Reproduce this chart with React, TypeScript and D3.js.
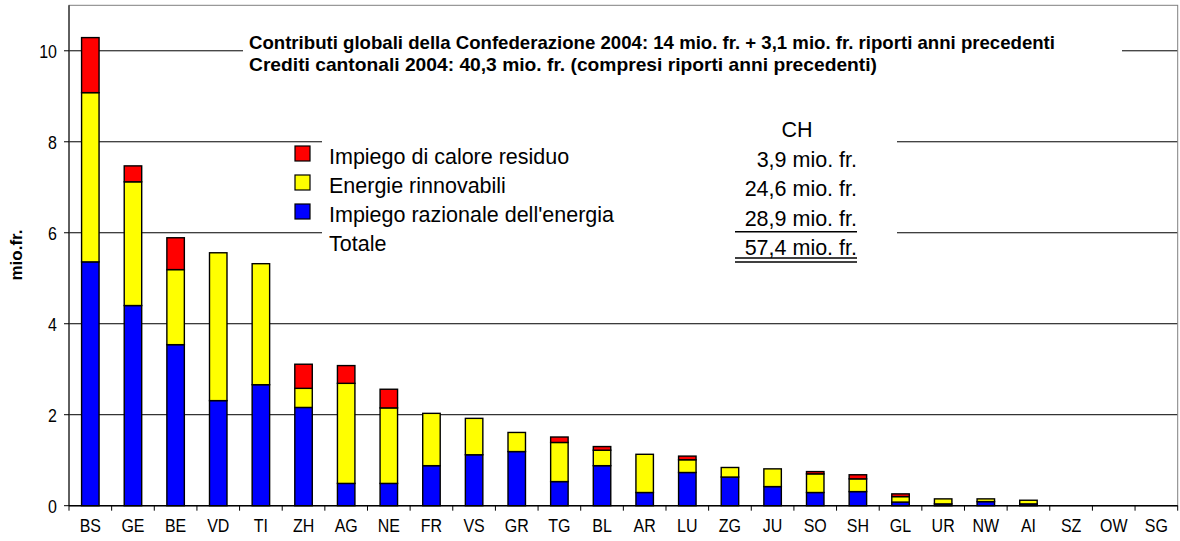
import { stack } from "d3";
import { scaleBand, scaleLinear } from "d3";

const cantons = ["BS", "GE", "BE", "VD", "TI", "ZH", "AG", "NE", "FR", "VS", "GR", "TG", "BL", "AR", "LU", "ZG", "JU", "SO", "SH", "GL", "UR", "NW", "AI", "SZ", "OW", "SG"];
// mio. fr. per canton
const rationalUse = [5.36, 4.4, 3.54, 2.31, 2.66, 2.16, 0.49, 0.49, 0.88, 1.12, 1.19, 0.53, 0.88, 0.29, 0.73, 0.63, 0.42, 0.29, 0.31, 0.08, 0.04, 0.09, 0.04, 0, 0, 0];
const renewables = [3.72, 2.72, 1.65, 3.25, 2.66, 0.42, 2.2, 1.66, 1.15, 0.8, 0.42, 0.86, 0.34, 0.84, 0.28, 0.21, 0.39, 0.41, 0.28, 0.12, 0.11, 0.06, 0.08, 0, 0, 0];
const wasteHeat = [1.21, 0.35, 0.7, 0, 0, 0.53, 0.39, 0.41, 0, 0, 0, 0.12, 0.08, 0, 0.08, 0, 0, 0.05, 0.09, 0.06, 0, 0, 0, 0, 0, 0];

const seriesKeys = ["rational", "renew", "heat"];
const seriesColors = ["#0000ff", "#ffff00", "#ff0000"];
const legendLabels = ["Impiego di calore residuo", "Energie rinnovabili", "Impiego razionale dell'energia"];
const legendColors = ["#ff0000", "#ffff00", "#0000ff"];
const chLabel = "CH";
const chValues = ["3,9 mio. fr.", "24,6 mio. fr.", "28,9 mio. fr.", "57,4 mio. fr."];
const totalLabel = "Totale";
const titleLines = [
  "Contributi globali della Confederazione 2004: 14 mio. fr. + 3,1 mio. fr. riporti anni precedenti",
  "Crediti cantonali 2004: 40,3 mio. fr. (compresi riporti anni precedenti)",
];
const yTicks = [0, 2, 4, 6, 8, 10];

const FONT = "'Liberation Sans', Arial, Helvetica, sans-serif";

export default function App() {
  const left = 69;
  const right = 1177.7;
  const top = 5.3;
  const bottom = 505.7;

  const x = scaleBand<string>().domain(cantons).range([left, right]);
  const y = scaleLinear().domain([0, 11]).range([bottom, top]);
  const barW = x.bandwidth() * 0.41;

  const rows = cantons.map((c, i) => ({ c, rational: rationalUse[i], renew: renewables[i], heat: wasteHeat[i] }));
  const layers = stack<any>().keys(seriesKeys)(rows);

  return (
    <>
      <style>{`body{margin:0}`}</style>
      <svg width={1180} height={541} style={{ display: "block", fontFamily: FONT }}>
        <rect x={0} y={0} width={1180} height={541} fill="#fff" />

        {/* gridlines */}
        {yTicks.filter((t) => t > 0).map((t) => (
          <line key={t} x1={left} x2={right} y1={y(t)} y2={y(t)} stroke="#000" strokeWidth={1} />
        ))}

        {/* text boxes hide the gridlines behind them */}
        <rect x={243} y={28} width={879} height={54} fill="#fff" />
        <rect x={322} y={108} width={575} height={160} fill="#fff" />

        {/* frame */}
        <rect x={left} y={top} width={right - left} height={bottom - top} fill="none" stroke="#808080" strokeWidth={1} />

        {/* bars */}
        {layers.map((layer, li) => (
          <g key={layer.key} fill={seriesColors[li]} stroke="#000" strokeWidth={1.4}>
            {layer.map((d, i) =>
              d[1] - d[0] > 0 ? (
                <rect
                  key={cantons[i]}
                  x={(x(cantons[i]) as number) + (x.bandwidth() - barW) / 2}
                  y={y(d[1])}
                  width={barW}
                  height={y(d[0]) - y(d[1])}
                />
              ) : null
            )}
          </g>
        ))}

        {/* axes */}
        <line x1={left} x2={left} y1={top} y2={bottom} stroke="#000" strokeWidth={1} />
        <line x1={left} x2={right} y1={bottom} y2={bottom} stroke="#000" strokeWidth={1.5} />
        {yTicks.map((t) => (
          <g key={t}>
            <line x1={left - 5} x2={left} y1={y(t)} y2={y(t)} stroke="#000" />
            <text
              transform={`translate(57,${y(t)}) scale(1,1.18)`}
              dy="0.36em"
              textAnchor="end"
              fontSize={16}
              fill="#000"
            >
              {t}
            </text>
          </g>
        ))}
        {[...cantons.map((c) => x(c) as number), right].map((px, i) => (
          <line key={i} x1={px} x2={px} y1={bottom} y2={bottom + 5} stroke="#000" />
        ))}
        {cantons.map((c) => (
          <text
            key={c}
            transform={`translate(${(x(c) as number) + x.bandwidth() / 2},532) scale(1,1.18)`}
            textAnchor="middle"
            fontSize={16}
            fill="#000"
          >
            {c}
          </text>
        ))}
        <text transform="translate(22,255) rotate(-90)" textAnchor="middle" fontSize={17} fontWeight="bold" fill="#000">
          mio.fr.
        </text>

        {/* title */}
        {titleLines.map((t, i) => (
          <text
            key={i}
            x={249}
            y={i === 0 ? 48.5 : 71}
            fontSize={19}
            fontWeight="bold"
            textLength={i === 0 ? 806 : 628}
            lengthAdjust="spacingAndGlyphs"
            fill="#000"
          >
            {t}
          </text>
        ))}

        {/* legend */}
        {legendLabels.map((l, i) => (
          <g key={l}>
            <rect x={295} y={146 + i * 29} width={15} height={15} fill={legendColors[i]} stroke="#000" strokeWidth={1.2} />
            <text x={329} y={164 + i * 29} fontSize={21.5} fill="#000">
              {l}
            </text>
          </g>
        ))}
        <text x={329} y={164 + 3 * 29} fontSize={21.5} fill="#000">
          {totalLabel}
        </text>

        {/* CH totals */}
        <text x={797} y={137} textAnchor="middle" fontSize={21.5} fill="#000">
          {chLabel}
        </text>
        {chValues.map((v, i) => (
          <text key={v} x={857} y={167 + i * 29.3} textAnchor="end" fontSize={21.5} fill="#000">
            {v}
          </text>
        ))}
        <line x1={735} x2={857} y1={231.7} y2={231.7} stroke="#000" strokeWidth={1.5} />
        <line x1={735} x2={857} y1={258} y2={258} stroke="#000" strokeWidth={1.5} />
        <line x1={735} x2={857} y1={262} y2={262} stroke="#000" strokeWidth={1.5} />
      </svg>
    </>
  );
}
